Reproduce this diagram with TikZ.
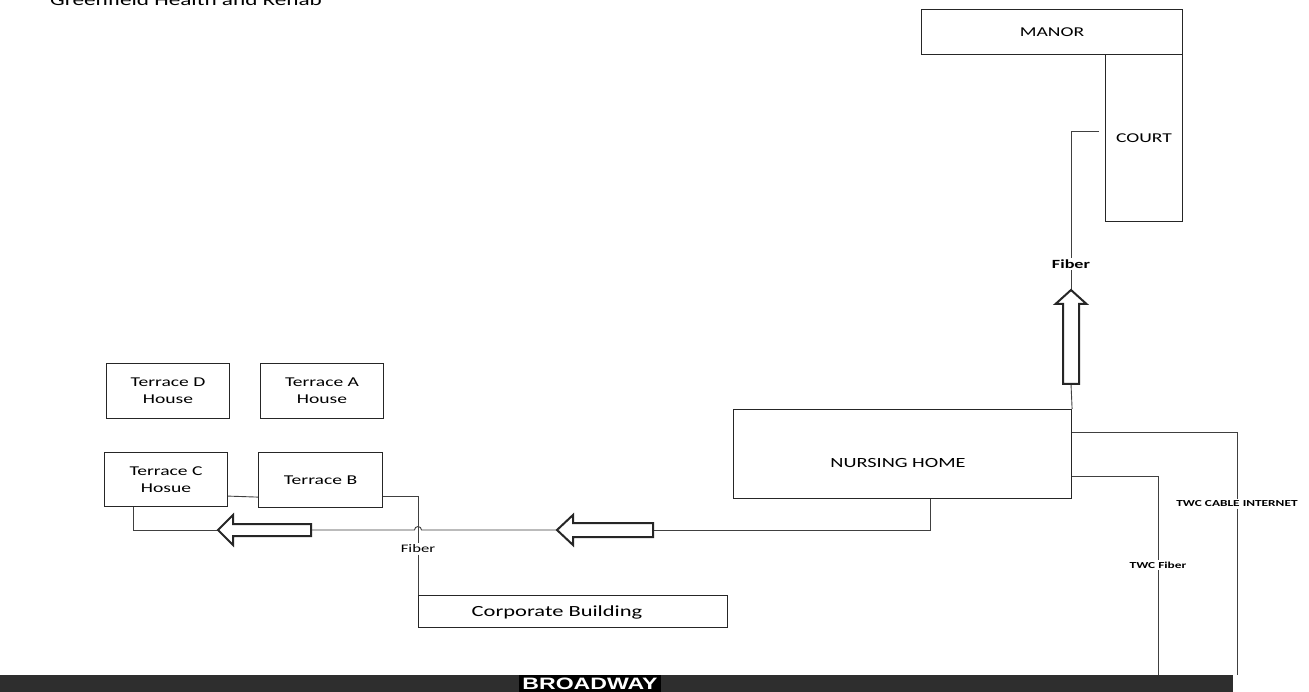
\documentclass[tikz,border=0pt]{standalone}
\usepackage{fontspec}
\setmainfont{Carlito}[FakeStretch=1.45]
\newfontfamily\roadfont{Liberation Sans}[FakeStretch=1.4]
\usetikzlibrary{calc}
\tikzset{
  bx/.style={draw=black!85, line width=1.1pt, fill=white, inner sep=0pt, anchor=north west},
  lbl/.style={font=\fontsize{13.5}{17}\selectfont, align=center, text=black},
  wire/.style={draw=black!75, line width=0.9pt},
  blk/.style={draw=black!85, line width=2pt, fill=white, line join=miter},
  smalllbl/.style={font=\fontsize{11.5}{13}\selectfont, inner sep=1.5pt},
  boldlbl/.style={font=\bfseries\fontsize{#1}{#1}\selectfont, inner sep=1.5pt},
}
\begin{document}
\begin{tikzpicture}[x=1pt,y=-1pt]
\useasboundingbox (0,0) rectangle (1309,692);
\fill[white] (0,0) rectangle (1309,692);

% title (cut by the top edge)
\node[anchor=base west, font=\fontsize{16}{18}\selectfont, inner sep=0pt] (title) at (50,6) {Greenfield Health and Rehab};

% buildings
\node[bx, lbl, minimum width=261pt, minimum height=45pt] (manor) at (921,9) {MANOR};
\node[bx, lbl, minimum width=77pt, minimum height=167pt] (court) at (1105,54) {COURT};
\node[bx, minimum width=338pt, minimum height=89pt] (nh) at (733,409) {};
\node[lbl, font=\fontsize{14}{16}\selectfont] (nhl) at (898,463) {NURSING HOME};
\node[bx, lbl, minimum width=123pt, minimum height=55pt] (td) at (106,363) {Terrace D\\House};
\node[bx, lbl, minimum width=123pt, minimum height=55pt] (ta) at (260,363) {Terrace A\\House};
\node[bx, lbl, minimum width=123pt, minimum height=54pt] (tc) at (104,452) {Terrace C\\Hosue};
\node[bx, lbl, minimum width=124pt, minimum height=55pt] (tb) at (258,452) {Terrace B};
\node[bx, minimum width=309pt, minimum height=32pt] (corp) at (418,595) {};
\node[lbl, font=\fontsize{15.5}{17}\selectfont] (corpl) at (557,612) {Corporate Building};

% road
\node[fill=black!82, minimum width=1233pt, minimum height=17pt, inner sep=0pt, anchor=north west] (road) at (0,675) {};
\node[fill=black, text=white, font=\roadfont\bfseries\fontsize{16.5}{17}\selectfont, inner xsep=3pt, inner ysep=0pt, minimum height=17pt] (roadl) at (590,683.5) {BROADWAY};

% labels on wires
\node[boldlbl=12.5] (fib1) at (1071,264) {Fiber};
\node[smalllbl] (fib2) at (418,549) {Fiber};
\node[boldlbl=9.2] (twc1) at (1237,504) {TWC CABLE INTERNET};
\node[boldlbl=9.2] (twc2) at (1158,565) {TWC Fiber};

% arrow end points
\coordinate (upTip) at (1071,290);
\coordinate (upTail) at (1071,384);
\coordinate (midTip) at (557,530);
\coordinate (midTail) at (653,530);
\coordinate (leftTip) at (218,530);
\coordinate (leftTail) at (311,530);
\coordinate (cf) at (1099,131);
\coordinate (hop) at (fib2.north |- midTip);

% wires
\draw[wire] (cf) -| (fib1.north);
\draw[wire] (fib1.south) -- (upTip);
\draw[wire] (upTail) -- (nh.north east);
\draw[wire] ($(nh.north east)+(0,23)$) -| (twc1.north);
\draw[wire] (twc1.south) -- (twc1.south |- road.north);
\draw[wire] ($(nh.north east)+(0,67)$) -| (twc2.north);
\draw[wire] (twc2.south) -- (twc2.south |- road.north);
\draw[wire] ($(nh.south west)+(197,0)$) |- (midTail);
\draw[wire] (midTip) -- ([xshift=3.5pt]hop) arc[start angle=0, end angle=180, radius=3.5pt] -- (leftTail);
\draw[wire] (leftTip) -| ($(tc.south west)+(29,0)$);
\draw[wire] ($(tc.south east)+(0,-11)$) -- ($(tb.south west)+(0,-11)$);
\draw[wire] ($(tb.south east)+(0,-12)$) -| (fib2.north);
\draw[wire] (fib2.south) -- (corp.north west);

% block arrows
\draw[blk] (1063,384) -- (1063,304) -- (1055.5,304) -- (upTip) -- (1086.5,304) -- (1079,304) -- (1079,384) -- cycle;
\draw[blk] (653,523) -- (573,523) -- (573,515) -- (midTip) -- (573,545) -- (573,537) -- (653,537) -- cycle;
\draw[blk] (311,524) -- (233,524) -- (233,515) -- (leftTip) -- (233,545) -- (233,536) -- (311,536) -- cycle;
\end{tikzpicture}
\end{document}
